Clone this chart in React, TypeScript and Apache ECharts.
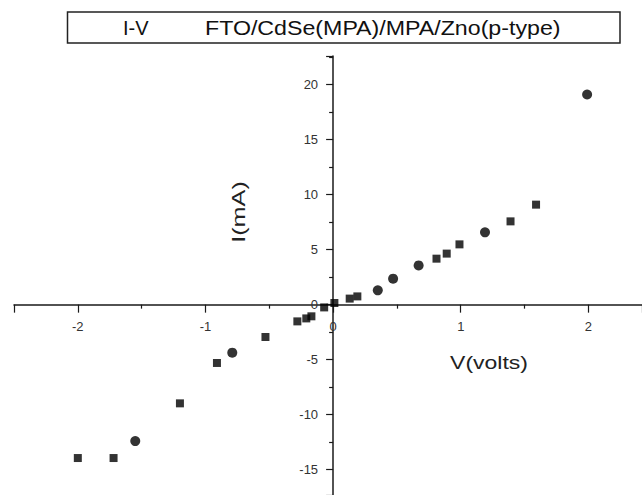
import { useEffect, useRef } from "react";
import * as echarts from "echarts";

// Measured data (V in volts, I in mA)
const squareV = [-2.0, -1.72, -1.2, -0.91, -0.53, -0.28, -0.21, -0.17, -0.07, 0.01, 0.13, 0.19, 0.81, 0.89, 0.99, 1.39, 1.59];
const squareI = [-13.94, -13.94, -8.97, -5.3, -2.94, -1.52, -1.25, -1.06, -0.25, 0.15, 0.55, 0.75, 4.18, 4.64, 5.48, 7.57, 9.09];
const circleV = [-1.55, -0.79, 0.35, 0.47, 0.67, 1.19, 1.99];
const circleI = [-12.4, -4.36, 1.3, 2.36, 3.57, 6.57, 19.1];

const xTickLabels = [-2, -1, 0, 1, 2];
const yTickLabels = [-15, -10, -5, 0, 5, 10, 15, 20];

const titleLeft = "I-V";
const titleRight = "FTO/CdSe(MPA)/MPA/Zno(p-type)";
const xName = "V(volts)";
const yName = "I(mA)";

const FONT = 'Arial, "Liberation Sans", sans-serif';

const W = 642;
const H = 495;
const GRID_LEFT = 14;
const GRID_TOP = 56;
const X_MIN = -2.5;
const X_MAX = 2.42;
const Y_MIN = -17.3;
const Y_MAX = 22.6;

export default function App() {
  const ref = useRef<HTMLDivElement>(null);
  useEffect(() => {
    if (!ref.current) return;
    const chart = echarts.init(ref.current, undefined, { renderer: "svg" });
    const axisColor = "#1a1a1a";
    const labelColor = "#333";
    const near = (v: number, arr: number[]) => arr.some((t) => Math.abs(t - v) < 1e-9);
    // Move the axes so that they cross at the origin (0, 0)
    const zeroY = GRID_TOP + (Y_MAX * (H - GRID_TOP)) / (Y_MAX - Y_MIN);
    const zeroX = GRID_LEFT + ((0 - X_MIN) * (W - GRID_LEFT)) / (X_MAX - X_MIN);
    const xAxisOffset = -(H - zeroY);
    const yAxisOffset = -(zeroX - GRID_LEFT);
    chart.setOption({
      animation: false,
      backgroundColor: "#ffffff",
      grid: {
        left: GRID_LEFT,
        right: 0,
        top: GRID_TOP,
        bottom: 0,
        containLabel: false,
        outerBoundsMode: "none",
      },
      xAxis: {
        type: "value",
        position: "bottom",
        offset: xAxisOffset,
        min: X_MIN,
        max: X_MAX,
        minInterval: 1,
        maxInterval: 1,
        axisLine: { onZero: false, lineStyle: { color: axisColor, width: 1.5 } },
        axisTick: { show: true, length: 8, lineStyle: { color: axisColor, width: 1.2 } },
        minorTick: { show: true, splitNumber: 2, length: 4, lineStyle: { color: axisColor, width: 1.2 } },
        splitLine: { show: false },
        axisLabel: {
          show: true,
          margin: 15,
          fontSize: 13,
          fontFamily: FONT,
          color: labelColor,
          showMinLabel: false,
          showMaxLabel: false,
          formatter: (v: number) => (near(v, xTickLabels) ? String(Math.round(v)) : ""),
        },
      },
      yAxis: {
        type: "value",
        position: "left",
        offset: yAxisOffset,
        min: Y_MIN,
        max: Y_MAX,
        minInterval: 5,
        maxInterval: 5,
        axisLine: { onZero: false, lineStyle: { color: axisColor, width: 1.5 } },
        axisTick: { show: true, length: 7, lineStyle: { color: axisColor, width: 1.2 } },
        minorTick: { show: true, splitNumber: 2, length: 4, lineStyle: { color: axisColor, width: 1.2 } },
        splitLine: { show: false },
        axisLabel: {
          show: true,
          margin: 15,
          fontSize: 13,
          fontFamily: FONT,
          color: labelColor,
          showMinLabel: false,
          showMaxLabel: false,
          formatter: (v: number) => (near(v, yTickLabels) ? String(Math.round(v)) : ""),
        },
      },
      series: [
        {
          type: "scatter",
          name: "squares",
          symbol: "rect",
          symbolSize: 8,
          itemStyle: { color: "#000" },
          data: squareV.map((v, i) => [v, squareI[i]]),
        },
        {
          type: "scatter",
          name: "circles",
          symbol: "circle",
          symbolSize: 10,
          itemStyle: { color: "#000" },
          data: circleV.map((v, i) => [v, circleI[i]]),
        },
      ],
      graphic: [
        {
          type: "rect",
          shape: { x: 67.5, y: 12, width: 552.5, height: 31 },
          style: { fill: "#ffffff", stroke: "#222", lineWidth: 1.5 },
        },
        {
          type: "text",
          x: 123,
          y: 28,
          style: {
            text: titleLeft,
            fontSize: 20,
            fontFamily: FONT,
            fill: "#111",
            textAlign: "left",
            align: "left",
            textVerticalAlign: "middle",
            verticalAlign: "middle",
          },
        },
        {
          type: "text",
          x: 205,
          y: 28,
          scaleX: 1.16,
          style: {
            text: titleRight,
            fontSize: 20,
            fontFamily: FONT,
            fill: "#111",
            textAlign: "left",
            align: "left",
            textVerticalAlign: "middle",
            verticalAlign: "middle",
          },
        },
        {
          type: "text",
          x: 489,
          y: 362,
          scaleX: 1.21,
          style: {
            text: xName,
            fontSize: 19,
            fontFamily: FONT,
            fill: "#222",
            textAlign: "center",
            align: "center",
            textVerticalAlign: "middle",
            verticalAlign: "middle",
          },
        },
        {
          type: "text",
          x: 238.5,
          y: 212,
          rotation: Math.PI / 2,
          scaleX: 1.33,
          style: {
            text: yName,
            fontSize: 19,
            fontFamily: FONT,
            fill: "#222",
            textAlign: "center",
            align: "center",
            textVerticalAlign: "middle",
            verticalAlign: "middle",
          },
        },
      ],
    });
    return () => chart.dispose();
  }, []);
  return (
    <div
      ref={ref}
      style={{ position: "fixed", left: 0, top: 0, width: W, height: H, background: "#fff" }}
    />
  );
}
